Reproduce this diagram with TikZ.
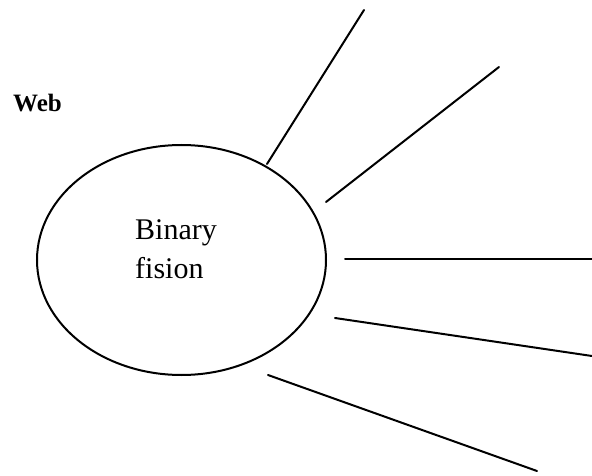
\documentclass[tikz,border=0pt]{standalone}
\usepackage{fontspec}
\setmainfont{Liberation Serif}
\usetikzlibrary{shapes.geometric}
\begin{document}
\begin{tikzpicture}[x=1pt,y=-1pt,
  spoke/.style={line width=2pt, line cap=round},
  label/.style={anchor=base west, inner sep=0pt, font=\fontsize{30}{36}\selectfont}]
\useasboundingbox (0,0) rectangle (592,476);
\node (e) [ellipse, draw, line width=2pt, minimum width=289pt, minimum height=230pt, inner sep=0pt] at (181.5,260) {};
\node (t1) [label] at (135,240) {Binary};
\node (t2) [label] at (135,278) {fision};
\node (web) [anchor=base west, inner sep=0pt, font=\fontsize{25}{30}\selectfont\bfseries] at (13,112) {Web};
\coordinate (a1) at (267,164); \coordinate (b1) at (364,10);
\coordinate (a2) at (326,202); \coordinate (b2) at (499,67);
\coordinate (a3) at (345,259); \coordinate (b3) at (592,259);
\coordinate (a4) at (335,318); \coordinate (b4) at (592,356);
\coordinate (a5) at (268,375); \coordinate (b5) at (537,471);
\draw[spoke] (a1) -- (b1);
\draw[spoke] (a2) -- (b2);
\draw[spoke] (a3) -- (b3);
\draw[spoke] (a4) -- (b4);
\draw[spoke] (a5) -- (b5);
\end{tikzpicture}
\end{document}
